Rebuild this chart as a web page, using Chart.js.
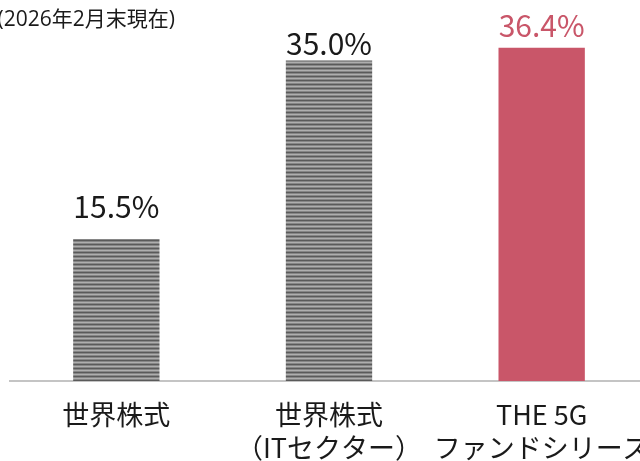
<!DOCTYPE html>
<html>
<head>
<meta charset="utf-8">
<script src="https://cdn.jsdelivr.net/npm/chart.js@4"></script>
<style>
  html, body { margin: 0; padding: 0; background: #fff; overflow: hidden; }
  #wrap { width: 670px; height: 461px; }
</style>
</head>
<body>
<div id="wrap"><canvas id="returnChart"></canvas></div>
<script>
const categories = [
  ["世界株式"],
  ["世界株式", "（ITセクター）"],
  ["THE 5G", "ファンドシリーズ"],
];
const returns = [15.5, 35.0, 36.4];
const valueLabels = ["15.5%", "35.0%", "36.4%"];
const asOfNote = "(2026年2月末現在)";

const FONT = "'Noto Sans CJK JP', 'Noto Sans', sans-serif";

// gray horizontal stripes like the printed source
const makeStripes = () => {
  const c = document.createElement("canvas");
  c.width = 8;
  c.height = 4;
  const g = c.getContext("2d");
  const rows = ["#5a5a5a", "#868686", "#aeaeae", "#868686"];
  rows.forEach((col, i) => {
    g.fillStyle = col;
    g.fillRect(0, i, 8, 1);
  });
  return g.createPattern(c, "repeat");
};

const red = "rgb(201, 86, 105)";
const stripes = makeStripes();

const valueLabelPlugin = {
  id: "valueLabels",
  afterDatasetsDraw(chart, args, opts) {
    const ctx = chart.ctx;
    const meta = chart.getDatasetMeta(0);
    ctx.save();
    ctx.font = "30px " + FONT;
    ctx.textAlign = "center";
    ctx.textBaseline = "alphabetic";
    meta.data.forEach((bar, i) => {
      ctx.fillStyle = i === 2 ? red : "#1a1a1a";
      ctx.fillText(valueLabels[i], bar.x, bar.y - opts.gaps[i]);
    });
    // as-of note, top left (cut by the edge like the source)
    ctx.font = "21px 'Open Sans', " + FONT;
    ctx.textAlign = "right";
    ctx.fillStyle = "#1a1a1a";
    ctx.fillText(asOfNote, 175, 26);
    ctx.restore();
  },
};

new Chart(document.getElementById("returnChart"), {
  type: "bar",
  data: {
    labels: categories,
    datasets: [
      {
        data: returns,
        backgroundColor: [stripes, stripes, red],
        borderWidth: 0,
        barPercentage: 0.406,
        categoryPercentage: 1,
      },
    ],
  },
  options: {
    responsive: true,
    maintainAspectRatio: false,
    animation: false,
    layout: { padding: { left: 10, right: 14, top: 0, bottom: 0 } },
    scales: {
      y: {
        display: false,
        min: 0,
        max: 41.6,
      },
      x: {
        grid: { display: false, drawTicks: false },
        border: { display: true, color: "#c4c4c4", width: 2 },
        ticks: {
          color: "#1a1a1a",
          font: { family: FONT, size: 27, lineHeight: 1.2 },
          padding: 18,
          maxRotation: 0,
          autoSkip: false,
        },
        afterFit: (scale) => {
          scale.height = 80;
        },
      },
    },
    plugins: {
      legend: { display: false },
      tooltip: { enabled: false },
      valueLabels: { gaps: [21, 5, 11] },
    },
  },
  plugins: [valueLabelPlugin],
});
</script>
</body>
</html>
